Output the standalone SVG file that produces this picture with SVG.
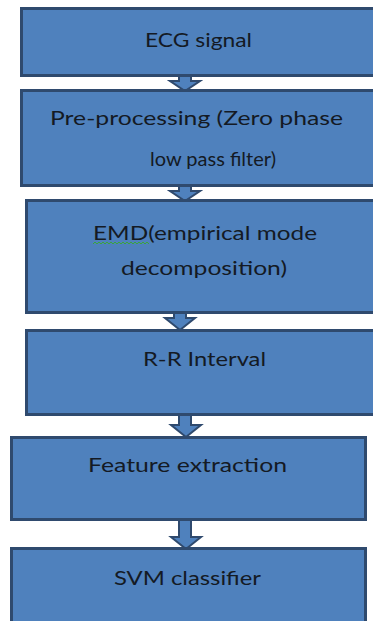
<svg xmlns="http://www.w3.org/2000/svg" width="373" height="621" viewBox="0 0 373 621">
<defs>
<style>
.box{fill:#4f81bd;stroke:#2f4a6e;stroke-width:3}
.arr{fill:#4f81bd;stroke:#2f4a6e;stroke-width:2;stroke-linejoin:miter}
.t{font-family:Lato,"Open Sans","Liberation Sans",sans-serif;font-size:19.5px;fill:#141a24}
.sq{fill:none;stroke:#3aa63a;stroke-width:1}
</style>
</defs>
<rect width="373" height="621" fill="#ffffff"/>
<g id="connectors">
<path class="arr" d="M179,74 H191 V81 H200 L185,91 L170,81 H179 Z"/>
<path class="arr" d="M179,184 H191 V191 H200 L185,201 L170,191 H179 Z"/>
<path class="arr" d="M174,311 H186 V318 H195 L180,330 L165,318 H174 Z"/>
<path class="arr" d="M179,414 H191 V425 H201 L186,437 L171,425 H179 Z"/>
<path class="arr" d="M179,518 H191 V537 H201 L186,549 L171,537 H179 Z"/>
</g>
<g id="n1">
<rect class="box" x="21.5" y="8.5" width="370" height="67"/>
<text class="t" x="145" y="47" textLength="107" lengthAdjust="spacingAndGlyphs">ECG signal</text>
</g>
<g id="n2">
<rect class="box" x="21.5" y="90.5" width="370" height="95"/>
<text class="t" x="50" y="125" textLength="293" lengthAdjust="spacingAndGlyphs">Pre-processing (Zero phase</text>
<text class="t" x="150" y="166" textLength="126" lengthAdjust="spacingAndGlyphs">low pass filter)</text>
</g>
<g id="n3">
<rect class="box" x="26.5" y="200.5" width="365" height="112"/>
<text class="t" x="93" y="240" textLength="224" lengthAdjust="spacingAndGlyphs">EMD(empirical mode</text>
<path class="sq" d="M93,244 l2,-2 l2,2 l2,-2 l2,2 l2,-2 l2,2 l2,-2 l2,2 l2,-2 l2,2 l2,-2 l2,2 l2,-2 l2,2 l2,-2 l2,2 l2,-2 l2,2 l2,-2 l2,2 l2,-2 l2,2 l2,-2 l2,2 l2,-2 l2,2 l2,-2 l2,2"/>
<text class="t" x="121" y="275" textLength="166" lengthAdjust="spacingAndGlyphs">decomposition)</text>
</g>
<g id="n4">
<rect class="box" x="26.5" y="330.5" width="365" height="84"/>
<text class="t" x="143" y="366" textLength="123" lengthAdjust="spacingAndGlyphs">R-R Interval</text>
</g>
<g id="n5">
<rect class="box" x="11.5" y="437.5" width="354" height="82"/>
<text class="t" x="88" y="472" textLength="199" lengthAdjust="spacingAndGlyphs">Feature extraction</text>
</g>
<g id="n6">
<rect class="box" x="11.5" y="548.5" width="354" height="80"/>
<text class="t" x="114" y="585" textLength="147" lengthAdjust="spacingAndGlyphs">SVM classifier</text>
</g>
</svg>
